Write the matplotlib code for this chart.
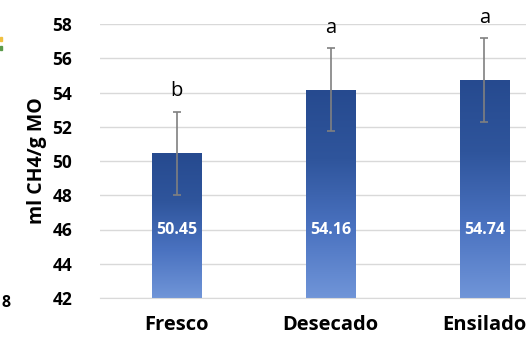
import numpy as np
import matplotlib.pyplot as plt
from matplotlib.colors import LinearSegmentedColormap
from matplotlib.patches import Rectangle

categories = ["Fresco", "Desecado", "Ensilado"]
values = [50.45, 54.16, 54.74]
errors = [2.43, 2.42, 2.44]
letters = ["b", "a", "a"]
yticks = [42, 44, 46, 48, 50, 52, 54, 56, 58]

plt.rcParams['font.family'] = ['Open Sans', 'DejaVu Sans']

W, H = 526, 338
fig = plt.figure(figsize=(W / 100, H / 100), dpi=100)
ax = fig.add_axes([100 / W, 40 / H, 426 / W, 274 / H])

x = np.arange(len(categories))
bw = 0.32
cmap = LinearSegmentedColormap.from_list("bar", ["#7095d8", "#4a72c0", "#2f559c", "#264a8f"])
grad = np.linspace(0, 1, 256).reshape(-1, 1)

for xi, v in zip(x, values):
    im = ax.imshow(grad, cmap=cmap, origin="lower", aspect="auto",
                   extent=[xi - bw / 2, xi + bw / 2, 42, v], zorder=2)
    rect = Rectangle((xi - bw / 2, 42), bw, v - 42, transform=ax.transData,
                     facecolor="none", edgecolor="none")
    ax.add_patch(rect)
    im.set_clip_path(rect)

ax.errorbar(x, values, yerr=errors, fmt="none", ecolor="#808080",
            elinewidth=1.2, capsize=3, capthick=1.2, zorder=3)

for xi, v, e, l in zip(x, values, errors, letters):
    ax.text(xi, v + e + 0.6, l, ha="center", va="bottom", fontsize=14.5,
            clip_on=False)
    ax.text(xi, 46, f"{v:.2f}", ha="center", va="center", color="white",
            fontsize=11.5, fontweight="bold", zorder=4)

ax.set_xlim(-0.5, 2.27)
ax.set_ylim(42, 58)
ax.set_yticks(yticks)
ax.set_xticks(x)
ax.set_xticklabels(categories, fontsize=14.5, fontweight="bold")
ax.tick_params(axis="y", labelsize=12.5, length=0, pad=20)
ax.tick_params(axis="x", length=0, pad=12)
for lab in ax.get_yticklabels():
    lab.set_fontweight("bold")
ax.grid(axis="y", color="#d9d9d9", lw=1, zorder=0)
ax.set_axisbelow(True)
for s in ["top", "right", "left"]:
    ax.spines[s].set_visible(False)
ax.spines["bottom"].set_color("#d9d9d9")
ax.set_ylabel("ml CH4/g MO", fontsize=14, fontweight="bold", labelpad=4)

# stray pieces from the neighbouring panel
fig.text(2 / W, 1 - 303 / H, "8", fontsize=11.5, fontweight="bold", va="center")
fig.patches.append(Rectangle((0, 1 - 41 / H), 2 / W, 4 / H, transform=fig.transFigure,
                             color="#f0c040"))
fig.patches.append(Rectangle((0, 1 - 50 / H), 2 / W, 4 / H, transform=fig.transFigure,
                             color="#5a9a4a"))

fig.savefig("out.png", dpi=100)
